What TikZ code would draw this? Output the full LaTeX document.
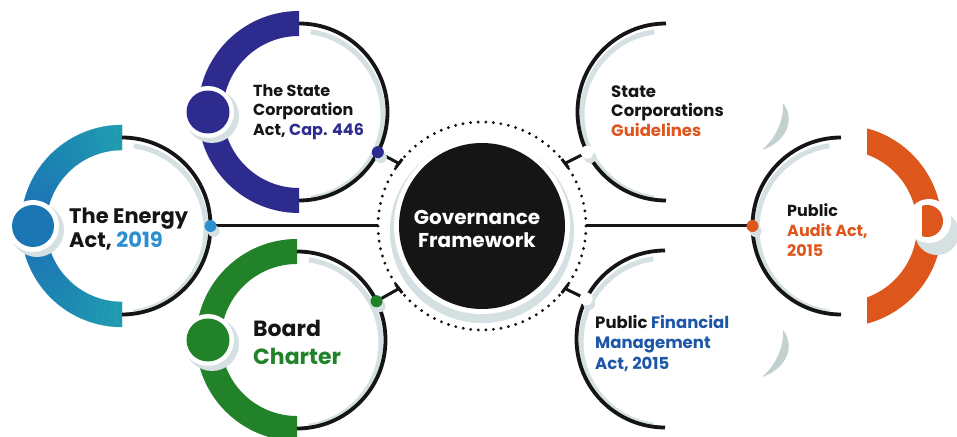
\documentclass[tikz,border=0pt]{standalone}
\usepackage{fontspec}
\setmainfont{Poppins}
\usetikzlibrary{calc}
\definecolor{eteal}{HTML}{1E9CB0}
\definecolor{eblue}{HTML}{1B6DB5}
\definecolor{sind}{HTML}{2D2B8E}
\definecolor{bgreen}{HTML}{22822A}
\definecolor{aor}{HTML}{DD561C}
\definecolor{shad}{HTML}{D5E0E3}
\definecolor{crs}{HTML}{C3D0D0}
\definecolor{ink}{HTML}{151515}
\definecolor{txtblue}{HTML}{2B8FD2}
\definecolor{pfmblue}{HTML}{1E56A8}
\definecolor{gorange}{HTML}{E0541D}
\newcommand\fs[2]{\fontsize{#1}{#2}\selectfont\bfseries}
\newcommand\bandsec[4]{\fill[#4,shift={(#1)}] (#2:101) arc[start angle=#2,end angle=#3,radius=101] -- (#3:76) arc[start angle=#3,end angle=#2,radius=76] -- cycle;}
\tikzset{
  ring/.style={draw=ink,line width=3.8pt},
  ringshadow/.style={draw=shad,line width=5pt},
  conn/.style={draw=ink,line width=3pt},
  txt/.style={align=left,inner sep=0pt,text=ink,anchor=west},
}
\begin{document}
\begin{tikzpicture}[x=1pt,y=1pt]
\useasboundingbox (0,0) rectangle (957,436);
\fill[white] (0,0) rectangle (957,436);

\coordinate (E) at (122,210);
\coordinate (S) at (299,324);
\coordinate (B) at (297,96);
\coordinate (G) at (482,210);
\coordinate (Gd) at (666,324);
\coordinate (P) at (665,97);
\coordinate (A) at (841,210);

% ---------- Energy Act
\foreach \a in {90,94,...,266}{
  \pgfmathsetmacro\p{abs(\a+2-180)/90*100}
  \fill[eteal!\p!eblue,draw=eteal!\p!eblue,line width=0.3pt,shift={(E)}] (\a:101) arc[start angle=\a,end angle=\a+4,radius=101] -- ({\a+4}:76) arc[start angle=\a+4,end angle=\a,radius=76] -- cycle;
}
\draw[ringshadow,shift={(E)},yshift=-3pt] (82:84) arc[start angle=82,end angle=-82,radius=84];
\draw[ring,shift={(E)}] (90:88.5) arc[start angle=90,end angle=-90,radius=88.5];
\fill[shad,shift={(E)}] (-85,-4) circle (27);
\fill[white,shift={(E)}] (-89,0) circle (26);
\fill[eblue!80!eteal,shift={(E)}] (-89,0) circle (21);

% ---------- State Corporation Act
\bandsec{S}{90}{270}{sind}
\draw[ringshadow,shift={(S)},yshift=-3pt] (82:84) arc[start angle=82,end angle=-82,radius=84];
\draw[ring,shift={(S)}] (90:88.5) arc[start angle=90,end angle=-90,radius=88.5];
\fill[shad,shift={(S)}] (-87,-4) circle (27);
\fill[white,shift={(S)}] (-91,0) circle (26);
\fill[sind,shift={(S)}] (-91,0) circle (21.5);

% ---------- Board Charter
\bandsec{B}{90}{270}{bgreen}
\draw[ringshadow,shift={(B)},yshift=-3pt] (82:84) arc[start angle=82,end angle=-82,radius=84];
\draw[ring,shift={(B)}] (90:88.5) arc[start angle=90,end angle=-90,radius=88.5];
\fill[shad,shift={(B)}] (-85,-4) circle (27);
\fill[white,shift={(B)}] (-89,0) circle (26);
\fill[bgreen,shift={(B)}] (-89,0) circle (21.5);

% ---------- Guidelines / PFM arcs
\draw[ringshadow,shift={(Gd)},yshift=-3pt] (98:84) arc[start angle=98,end angle=262,radius=84];
\draw[ring,shift={(Gd)}] (90:88.5) arc[start angle=90,end angle=270,radius=88.5];
\draw[ringshadow,shift={(P)},yshift=-3pt] (98:84) arc[start angle=98,end angle=262,radius=84];
\draw[ring,shift={(P)}] (90:88.5) arc[start angle=90,end angle=270,radius=88.5];

% ---------- Public Audit Act
\begin{scope}
  \clip (867,0) rectangle (957,436);
  \bandsec{A}{90}{-90}{aor}
\end{scope}
\draw[ringshadow,shift={(A)},yshift=-3pt] (98:84) arc[start angle=98,end angle=262,radius=84];
\draw[ring,shift={(A)}] (90:88.5) arc[start angle=90,end angle=270,radius=88.5];
\fill[shad] (937,203) circle (22);
\fill[white] (929,215) circle (22);
\begin{scope}
  \clip (922,0) rectangle (957,436);
  \fill[aor] (927,215) circle (16);
\end{scope}

% ---------- grey crescents
\fill[crs] (783,333) .. controls (796,316) and (786,294) .. (762,286) .. controls (776,298) and (784,316) .. cycle;
\fill[crs] (783,106) .. controls (796,89) and (786,67) .. (762,59) .. controls (776,71) and (784,89) .. cycle;

% ---------- Governance centre
\fill[shad] ($(G)+(0,-5)$) circle (92);
\fill[white] (G) circle (88);
\fill[ink] (G) circle (83);
\draw[ink,line width=3.2pt,dash pattern=on 0pt off 7.6pt,line cap=round] (G) circle (104);

% ---------- connectors
\coordinate (Ej) at ($(E)+(0:88.5)$);
\coordinate (GL) at ($(G)+(180:104)$);
\coordinate (GR) at ($(G)+(0:104)$);
\coordinate (Aj) at ($(A)+(180:88.5)$);
\coordinate (Sj) at ($(S)+(-27:88.5)$);
\coordinate (Bj) at ($(B)+(26:88.5)$);
\coordinate (Gdj) at ($(Gd)+(207:88.5)$);
\coordinate (Pj) at ($(P)+(153:88.5)$);
\coordinate (T1) at ($(G)+(143:104)$);
\coordinate (T2) at ($(G)+(217:104)$);
\coordinate (T3) at ($(G)+(37:104)$);
\coordinate (T4) at ($(G)+(-37:104)$);

\draw[conn] (Ej) -- (GL);
\draw[conn] (GR) -- (Aj);
\draw[conn] (Sj) -- (T1);
\draw[conn] (Bj) -- (T2);
\draw[conn] (Gdj) -- (T3);
\draw[conn] (Pj) -- (T4);
\draw[conn] ($(T1)+(53:5.5)$) -- ($(T1)+(233:5.5)$);
\draw[conn] ($(T2)+(127:5.5)$) -- ($(T2)+(307:5.5)$);
\draw[conn] ($(T3)+(127:5.5)$) -- ($(T3)+(307:5.5)$);
\draw[conn] ($(T4)+(53:5.5)$) -- ($(T4)+(233:5.5)$);

% junction dots
\fill[shad] ($(Ej)+(3,-5)$) circle (6);
\fill[txtblue] (Ej) circle (6);
\fill[shad] ($(Sj)+(3,-5)$) circle (6);
\fill[sind] (Sj) circle (6);
\fill[shad] ($(Bj)+(3,-5)$) circle (6);
\fill[bgreen] (Bj) circle (6);
\fill[shad] ($(Aj)+(3,-5)$) circle (6);
\fill[aor] (Aj) circle (6);
\fill[shad] ($(Gdj)+(3,-5)$) circle (6);
\fill[white] (Gdj) circle (6.5);
\fill[shad] ($(Pj)+(3,-5)$) circle (6);
\fill[white] (Pj) circle (6.5);

% ---------- texts
\node[txt,font=\fs{21}{24}] (tE) at (69,207) {The Energy\\Act, \textcolor{txtblue}{2019}};
\node[txt,font=\fs{16}{19.5}] (tS) at (253,324) {The State\\Corporation\\Act, \textcolor{sind}{Cap. 446}};
\node[txt,font=\fs{22}{28}] (tB) at (253,94) {Board\\\textcolor{bgreen}{Charter}};
\node[align=center,inner sep=0pt,text=white,font=\fs{20}{23}] (tG) at (477,207.5) {Governance\\Framework};
\node[txt,font=\fs{16.5}{19.5}] (tGd) at (611,325) {State\\Corporations\\\textcolor{gorange}{Guidelines}};
\node[txt,font=\fs{16.5}{20.5}] (tP) at (595,93) {Public \textcolor{pfmblue}{Financial}\\\textcolor{pfmblue}{Management}\\\textcolor{pfmblue}{Act, 2015}};
\node[txt,font=\fs{16}{20}] (tA) at (787,206) {Public\\\textcolor{aor}{Audit Act,}\\\textcolor{aor}{2015}};
\end{tikzpicture}
\end{document}
